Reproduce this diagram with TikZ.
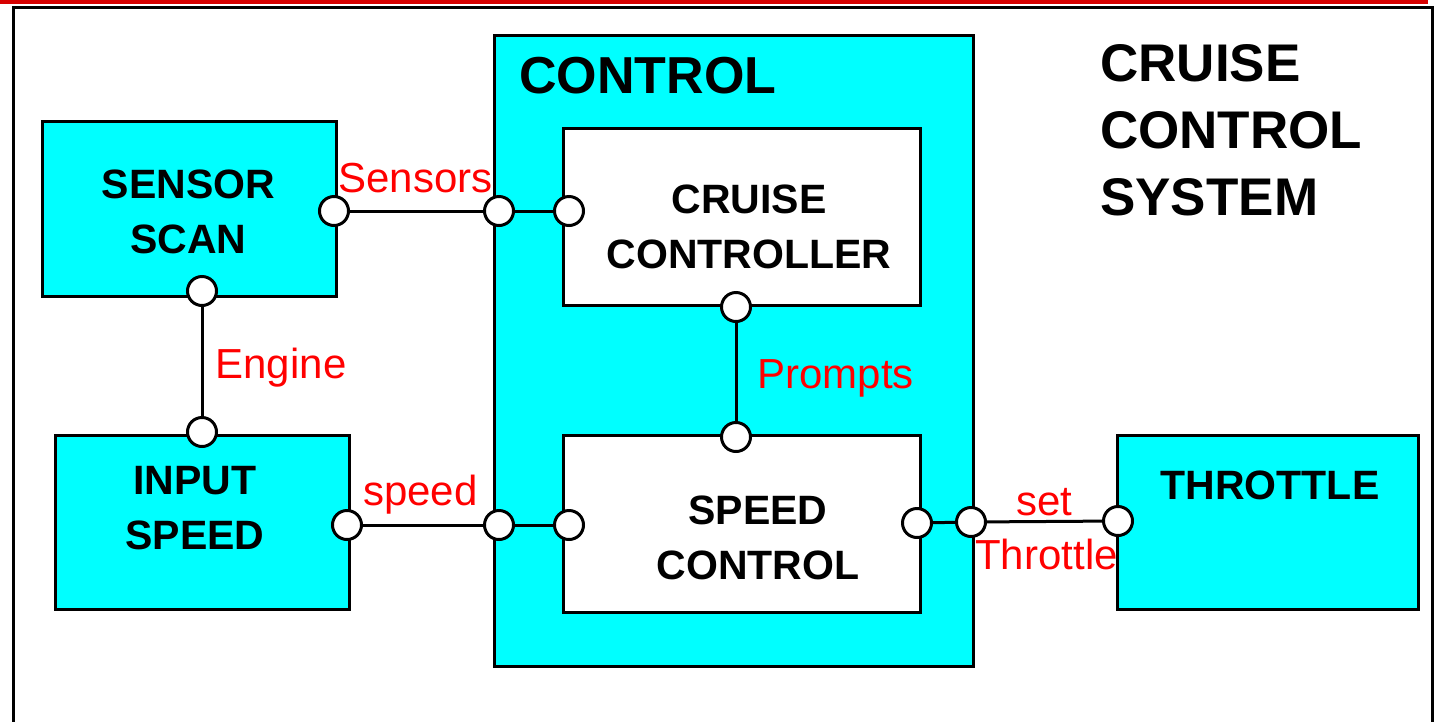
\documentclass[tikz,border=0pt]{standalone}
\usepackage{fontspec}
\setmainfont{Liberation Sans}
\definecolor{boxcyan}{RGB}{0,255,255}
\definecolor{barred}{RGB}{215,0,0}
\tikzset{
  blk/.style={draw, line width=3pt, fill=boxcyan, inner sep=0pt},
  subblk/.style={draw, line width=3pt, fill=white, inner sep=0pt},
  blktext/.style={font=\fontsize{41}{55}\selectfont\bfseries, align=center, inner sep=0pt},
  bigtext/.style={font=\fontsize{52}{67}\selectfont\bfseries, inner sep=0pt},
  sig/.style={font=\fontsize{42}{50}\selectfont, text=red, inner sep=0pt, anchor=base},
  port/.style={circle, draw, line width=3pt, fill=white, minimum size=29pt, inner sep=0pt},
  wire/.style={line width=3pt},
}
\begin{document}
\begin{tikzpicture}[x=1pt, y=-1pt]
  \clip (0,0) rectangle (1435,721);
  % page frame
  \fill[barred] (0,0) rectangle (1428,3.5);
  \draw[line width=3pt] (13,7) rectangle (1432.5,760);

  % blocks
  \node[blk, minimum width=294pt, minimum height=175pt] (sensor) at (189,208.5) {};
  \node[blk, minimum width=294pt, minimum height=174pt] (input) at (202,522) {};
  \node[blk, minimum width=479pt, minimum height=631pt] (control) at (733.5,350.5) {};
  \node[subblk, minimum width=357pt, minimum height=177pt] (cruise) at (741.5,216.5) {};
  \node[subblk, minimum width=357pt, minimum height=177pt] (speed) at (741.5,523.5) {};
  \node[blk, minimum width=301pt, minimum height=174pt] (throttle) at (1267.5,522) {};

  \node[blktext] (sensor-txt) at (188.5,211.5) {SENSOR\\SCAN};
  \node[blktext] (input-txt) at (195,508) {INPUT\\SPEED};
  \node[blktext] (cruise-txt) at (749,227) {CRUISE\\CONTROLLER};
  \node[blktext] (speed-txt) at (758,538) {SPEED\\CONTROL};
  \node[blktext] (throttle-txt) at (1270,485.5) {THROTTLE};

  \node[bigtext, anchor=base west] (control-title) at (519,93) {CONTROL};
  \node[bigtext, font=\fontsize{53}{67}\selectfont\bfseries, align=left, anchor=north west] (system-title) at (1100,44) {CRUISE\\CONTROL\\SYSTEM};

  % ports
  \node[port] (sensor-out) at (334,211) {};
  \node[port] (ctl-in1) at (499,211) {};
  \node[port] (cruise-in) at (569,211) {};
  \node[port] (sensor-dn) at (202,291) {};
  \node[port] (input-up) at (202,432) {};
  \node[port] (cruise-dn) at (736,307) {};
  \node[port] (speed-up) at (736,437) {};
  \node[port] (input-out) at (347,525) {};
  \node[port] (ctl-in2) at (499,525) {};
  \node[port] (speed-in) at (569,525) {};
  \node[port] (speed-out) at (917,523) {};
  \node[port] (ctl-out) at (971,522) {};
  \node[port] (throttle-in) at (1118,521) {};

  % wires
  \draw[wire] (sensor-out) -- (ctl-in1) -- (cruise-in);
  \draw[wire] (sensor-dn) -- (input-up);
  \draw[wire] (cruise-dn) -- (speed-up);
  \draw[wire] (input-out) -- (ctl-in2) -- (speed-in);
  \draw[wire] (speed-out) -- (ctl-out) -- (throttle-in);

  % signal names
  \node[sig] (sensors-lbl) at (415.5,192) {Sensors};
  \node[sig] (engine-lbl) at (281,378) {Engine};
  \node[sig] (prompts-lbl) at (835.5,388) {Prompts};
  \node[sig] (speed-lbl) at (420.5,505) {speed};
  \node[sig] (set-lbl) at (1044.5,515) {set};
  \node[sig] (throttle-lbl) at (1046.5,569) {Throttle};
\end{tikzpicture}
\end{document}
